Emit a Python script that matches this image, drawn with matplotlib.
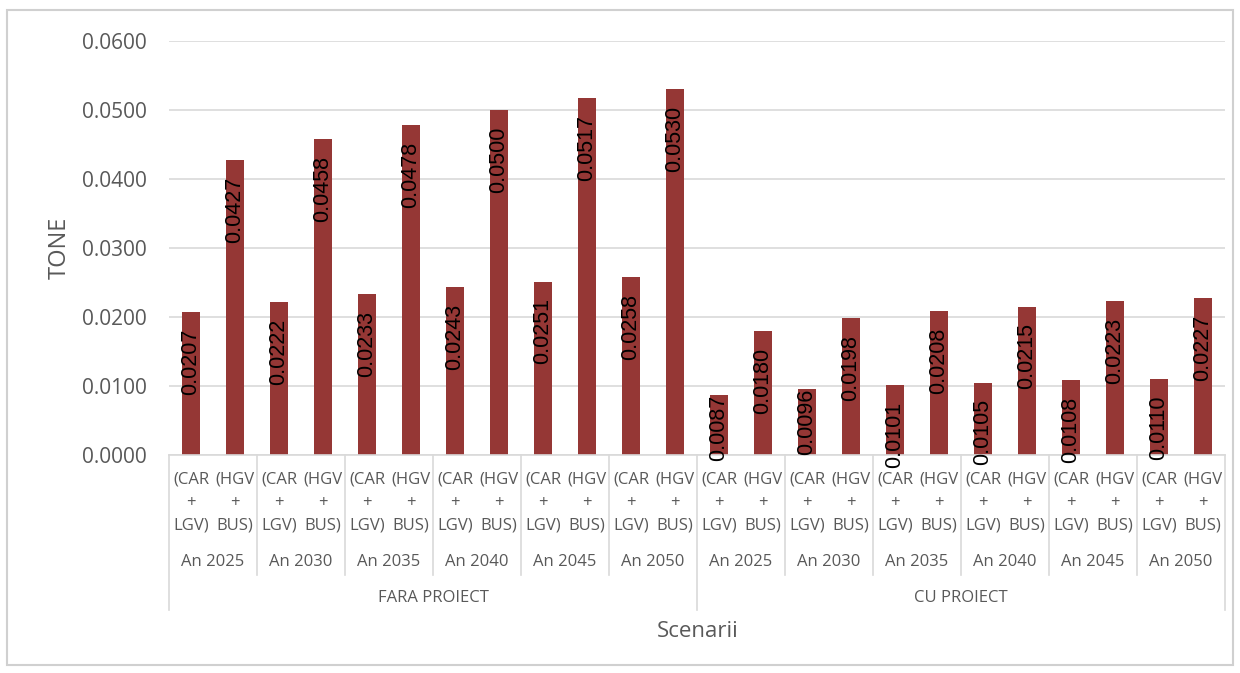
import matplotlib
matplotlib.use("Agg")
import matplotlib.pyplot as plt
import matplotlib.transforms as mtransforms
from matplotlib.patches import Rectangle
import numpy as np

plt.rcParams['font.family'] = ['Open Sans', 'DejaVu Sans']

# emisii (tone) pe scenarii
scenarii = ["FARA PROIECT", "CU PROIECT"]
ani = ["An 2025", "An 2030", "An 2035", "An 2040", "An 2045", "An 2050"]
vehicule = ["(CAR\n+\nLGV)", "(HGV\n+\nBUS)"]

fara_car_lgv = [0.0207, 0.0222, 0.0233, 0.0243, 0.0251, 0.0258]
fara_hgv_bus = [0.0427, 0.0458, 0.0478, 0.0500, 0.0517, 0.0530]
cu_car_lgv = [0.0087, 0.0096, 0.0101, 0.0105, 0.0108, 0.0110]
cu_hgv_bus = [0.0180, 0.0198, 0.0208, 0.0215, 0.0223, 0.0227]

yticks = [0.0, 0.01, 0.02, 0.03, 0.04, 0.05, 0.06]

values = []
for car, hgv in zip(fara_car_lgv, fara_hgv_bus):
    values += [car, hgv]
for car, hgv in zip(cu_car_lgv, cu_hgv_bus):
    values += [car, hgv]
x = np.arange(len(values))

GRAY = '#595959'
LINE = '#d9d9d9'
BAR = '#953735'

fig = plt.figure(figsize=(12.4, 6.73), dpi=100)
ax = fig.add_axes([0.1363, 0.3239, 0.8516, 0.6152])

ax.bar(x, values, width=0.41, color=BAR, zorder=2)
for xi, v in zip(x, values):
    # etichetele barelor foarte scurte stau lipite de capatul barei
    off = 0 if v < 0.01 else -12
    ax.annotate(f"{v:.4f}", (xi, v), xytext=(0, off), textcoords='offset points',
                rotation=90, ha='center', va='top', fontsize=15.5,
                family='Liberation Sans', color='black', zorder=3,
                annotation_clip=False)

ax.set_xlim(-0.5, len(values) - 0.5)
ax.set_ylim(0, 0.06)
ax.set_yticks(yticks)
ax.set_yticklabels([f"{t:.4f}" for t in yticks])
ax.tick_params(axis='y', length=0, pad=16, labelsize=15, labelcolor=GRAY)
ax.set_xticks([])
ax.grid(axis='y', color=LINE, linewidth=1.2, zorder=0)
for s in ['top', 'right', 'left']:
    ax.spines[s].set_visible(False)
ax.spines['bottom'].set_color(LINE)
ax.spines['bottom'].set_linewidth(1.2)

# axa de categorii pe mai multe nivele
tr = mtransforms.blended_transform_factory(ax.transData, fig.transFigure)
y_axis = 0.3239
for i, lab in enumerate(vehicule * (len(values) // 2)):
    rows = lab.split("\n")
    for r, yy in zip(rows, [0.2880, 0.2530, 0.2190]):
        ax.text(i, yy, r, transform=tr, ha='center', va='center',
                fontsize=12, color=GRAY)
for j, an in enumerate(ani * 2):
    ax.text(2 * j + 0.5, 0.165, an, transform=tr, ha='center', va='center',
            fontsize=12, color=GRAY)
for k, sc in enumerate(scenarii):
    ax.text(12 * k + 5.5, 0.111, sc, transform=tr, ha='center', va='center',
            fontsize=12, color=GRAY)

for b in np.arange(1.5, len(values) - 1, 2):
    if b == 11.5:
        continue
    ax.plot([b, b], [y_axis, 0.1456], transform=tr, color=LINE,
            linewidth=1.2, clip_on=False)
for b in [-0.5, 11.5, len(values) - 0.5]:
    ax.plot([b, b], [y_axis, 0.0936], transform=tr, color=LINE,
            linewidth=1.2, clip_on=False)

fig.text(0.5625, 0.061, "Scenarii", ha='center', va='center',
         fontsize=16, color=GRAY)
fig.text(0.048, 0.631, "TONE", ha='center', va='center', rotation=90,
         fontsize=17, color=GRAY)

fig.patches.append(Rectangle((0.0056, 0.0119), 0.9887, 0.973,
                             transform=fig.transFigure, fill=False,
                             edgecolor='#d0d0d0', linewidth=1.5))

fig.savefig("out.png", dpi=100)
